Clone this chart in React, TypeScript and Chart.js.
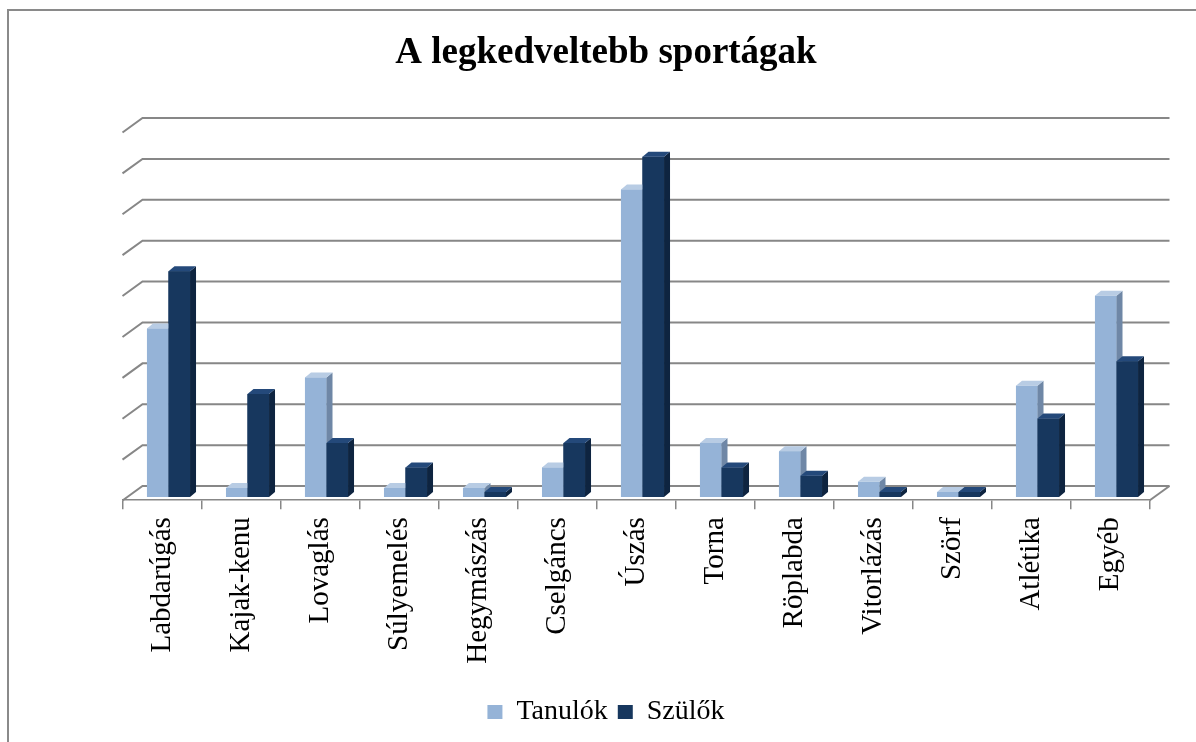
import React, { useEffect, useRef } from 'react';
import { Chart, registerables } from 'chart.js';

Chart.register(...registerables);

// ---- data ----
const categories = ['Labdarúgás', 'Kajak-kenu', 'Lovaglás', 'Súlyemelés', 'Hegymászás', 'Cselgáncs', 'Úszás', 'Torna', 'Röplabda', 'Vitorlázás', 'Szörf', 'Atlétika', 'Egyéb'];
const tanulok = [4.0, 0.1, 2.8, 0.1, 0.1, 0.6, 7.4, 1.2, 1.0, 0.25, 0, 2.6, 4.8];
const szulok = [5.4, 2.4, 1.2, 0.6, 0, 1.2, 8.2, 0.6, 0.4, 0, 0, 1.8, 3.2];
const gridValues = [0, 1, 2, 3, 4, 5, 6, 7, 8, 9];
const seriesNames = ['Tanulók', 'Szülők'];
const chartTitle = 'A legkedveltebb sportágak';

// ---- style ----
const FONT = "'Liberation Serif', 'Times New Roman', serif";
const GRID = '#878787';
const WALL_DX = 20;
const WALL_DY = 14.5;
const WALL_LIFT = 6;
const BAR_DX = 6;
const BAR_DY = 5;
const BAR_SHIFT = 6.5;
const BAR_BASE = -0.12;

const faces = [
  { front: '#95B3D7', side: '#6F87A6', top: '#B8CCE4' },
  { front: '#17375E', side: '#0E2440', top: '#24497A' },
];

const depthPlugin = {
  id: 'depth3d',
  beforeDraw(chart: any) {
    const ctx = chart.ctx;
    ctx.save();
    ctx.strokeStyle = '#8a8a8a';
    ctx.lineWidth = 2;
    ctx.strokeRect(8, 10, chart.width + 40, chart.height + 40);
    ctx.restore();
  },
  beforeDatasetsDraw(chart: any) {
    const { ctx, chartArea: a, scales } = chart;
    const y = scales.y;
    ctx.save();
    ctx.strokeStyle = GRID;
    ctx.lineWidth = 2;
    gridValues.forEach((v) => {
      const gy = y.getPixelForValue(v) - WALL_LIFT;
      ctx.beginPath();
      ctx.moveTo(a.left, gy + WALL_DY);
      ctx.lineTo(a.left + WALL_DX, gy);
      ctx.lineTo(a.right + WALL_DX, gy);
      ctx.stroke();
    });
    const fy = y.getPixelForValue(0) - WALL_LIFT;
    ctx.beginPath();
    ctx.moveTo(a.right, fy + WALL_DY);
    ctx.lineTo(a.right + WALL_DX, fy);
    ctx.stroke();
    ctx.restore();
  },
  afterDatasetsUpdate(chart: any) {
    chart.data.datasets.forEach((_: any, i: number) => {
      chart.getDatasetMeta(i).data.forEach((el: any) => {
        el.x += BAR_SHIFT;
      });
    });
  },
  afterDatasetsDraw(chart: any) {
    const ctx = chart.ctx;
    ctx.save();
    chart.data.datasets.forEach((_: any, i: number) => {
      const f = faces[i];
      chart.getDatasetMeta(i).data.forEach((el: any) => {
        el.draw(ctx);
        const { x, y, base, width } = el.getProps(['x', 'y', 'base', 'width'], true);
        const l = x - width / 2;
        const r = x + width / 2;
        ctx.fillStyle = f.side;
        ctx.beginPath();
        ctx.moveTo(r, y);
        ctx.lineTo(r + BAR_DX, y - BAR_DY);
        ctx.lineTo(r + BAR_DX, base - BAR_DY);
        ctx.lineTo(r, base);
        ctx.closePath();
        ctx.fill();
        ctx.fillStyle = f.top;
        ctx.beginPath();
        ctx.moveTo(l, y);
        ctx.lineTo(l + BAR_DX, y - BAR_DY);
        ctx.lineTo(r + BAR_DX, y - BAR_DY);
        ctx.lineTo(r, y);
        ctx.closePath();
        ctx.fill();
      });
    });
    ctx.restore();
  },
};

export default function App() {
  const ref = useRef<HTMLCanvasElement | null>(null);
  useEffect(() => {
    if (!ref.current) return;
    const chart = new Chart(ref.current, {
      type: 'bar',
      data: {
        labels: categories,
        datasets: [
          { label: seriesNames[0], data: tanulok, backgroundColor: faces[0].front, borderWidth: 0, base: BAR_BASE, categoryPercentage: 0.545, barPercentage: 1 } as any,
          { label: seriesNames[1], data: szulok, backgroundColor: faces[1].front, borderWidth: 0, base: BAR_BASE, categoryPercentage: 0.545, barPercentage: 1 } as any,
        ],
      },
      options: {
        responsive: false,
        animation: false,
        devicePixelRatio: 1,
        layout: { padding: { left: 62.5, right: 46.5, top: 0, bottom: 6 } },
        plugins: {
          title: {
            display: true,
            text: chartTitle,
            color: '#000',
            font: { family: FONT, size: 37, weight: 'bold' },
            padding: { top: 31, bottom: 48.6 },
          },
          legend: {
            position: 'bottom',
            labels: { color: '#000', font: { family: FONT, size: 28 }, boxWidth: 15, boxHeight: 14, padding: 10 },
          },
          tooltip: { enabled: false },
        },
        scales: {
          x: {
            offset: true,
            grid: { display: true, drawOnChartArea: false, drawTicks: true, tickLength: 9, color: GRID, lineWidth: 1.5, offset: true },
            border: { display: true, color: GRID, width: 1.5 },
            ticks: { color: '#000', font: { family: FONT, size: 29 }, maxRotation: 90, minRotation: 90, padding: 8, autoSkip: false },
            afterFit: (s: any) => { s.height = 187.8; },
          },
          y: {
            min: -0.2,
            max: 9,
            grid: { display: false },
            border: { display: false },
            ticks: { display: false, stepSize: 1 },
            afterFit: (s: any) => { s.width = 60; },
          },
        },
      } as any,
      plugins: [depthPlugin],
    });
    return () => chart.destroy();
  }, []);
  return (
    <canvas
      ref={ref}
      width={1196}
      height={742}
      style={{ position: 'fixed', left: 0, top: 0, width: 1196, height: 742 }}
    />
  );
}
